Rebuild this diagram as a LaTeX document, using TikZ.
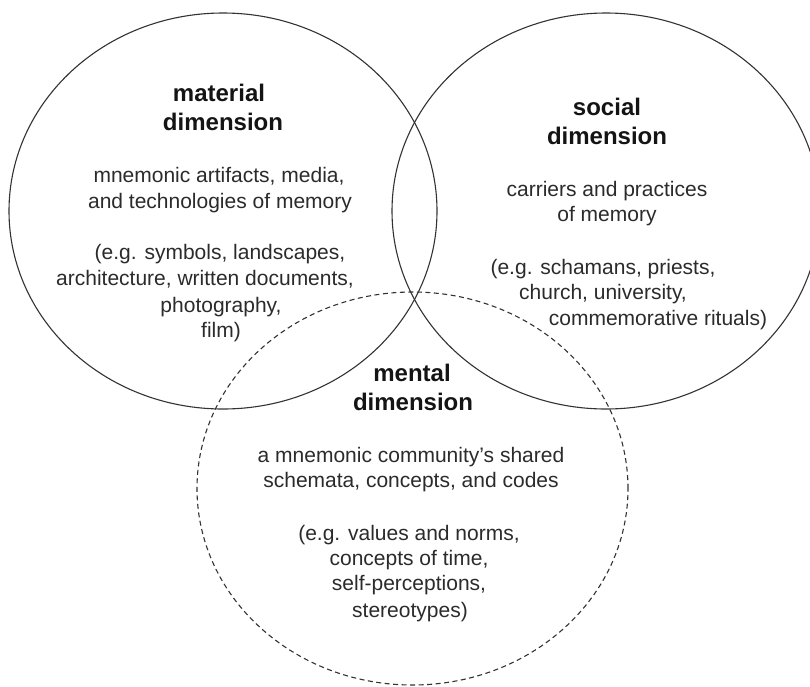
\documentclass[tikz,border=0pt]{standalone}
\usepackage{fontspec}
\setmainfont{Liberation Sans}
\usetikzlibrary{shapes.geometric}
\definecolor{ink}{HTML}{2B2B2B}
\definecolor{edgecol}{HTML}{333333}
\begin{document}
\begin{tikzpicture}[x=1pt,y=-1pt,
  ttl/.style={inner sep=0pt, anchor=base, font=\fontsize{24}{29}\selectfont\bfseries, text=black!92},
  ln/.style={inner sep=0pt, anchor=base, font=\fontsize{21}{25}\selectfont, text=ink},
  ring/.style={ellipse, draw=edgecol, line width=1.1pt, inner sep=0pt}]
\useasboundingbox (0,0) rectangle (810,686);
\clip (0,0) rectangle (810,686);
\fill[white] (0,0) rectangle (810,686);
% circles
\node[ring, minimum width=428pt, minimum height=396pt] (material) at (223,211) {};
\node[ring, minimum width=428pt, minimum height=396pt] (social) at (606,211) {};
\node[ring, dash pattern=on 5pt off 3.5pt, minimum width=431pt, minimum height=393pt] (mental) at (412.5,488.5) {};
% material texts
\node[ttl] (mt1) at (219,101.5) {material};
\node[ttl] (mt2) at (223,130.5) {dimension};
\node[ln] (mb1) at (219,182) {mnemonic artifacts, media,};
\node[ln] (mb2) at (220,208) {and technologies of memory};
\node[ln] (mb3) at (220,259) {(e.g. symbols, landscapes,};
\node[ln] (mb4) at (205,285) {architecture, written documents,};
\node[ln] (mb5) at (221,312) {photography,};
\node[ln] (mb6) at (221,337) {film)};
% social texts
\node[ttl] (st1) at (607,115.5) {social};
\node[ttl] (st2) at (607,144.5) {dimension};
\node[ln] (sb1) at (607,196) {carriers and practices};
\node[ln] (sb2) at (607,221) {of memory};
\node[ln] (sb3) at (603,274) {(e.g. schamans, priests,};
\node[ln] (sb4) at (603,299) {church, university,};
\node[ln] (sb5) at (658,325) {commemorative rituals)};
% mental texts
\node[ttl] (nt1) at (412,381.5) {mental};
\node[ttl] (nt2) at (413,410.5) {dimension};
\node[ln] (nb1) at (411,462) {a mnemonic community’s shared};
\node[ln] (nb2) at (411,487) {schemata, concepts, and codes};
\node[ln] (nb3) at (409,540) {(e.g. values and norms,};
\node[ln] (nb4) at (409,565) {concepts of time,};
\node[ln] (nb5) at (409,590) {self-perceptions,};
\node[ln] (nb6) at (410,617) {stereotypes)};
\end{tikzpicture}
\end{document}
